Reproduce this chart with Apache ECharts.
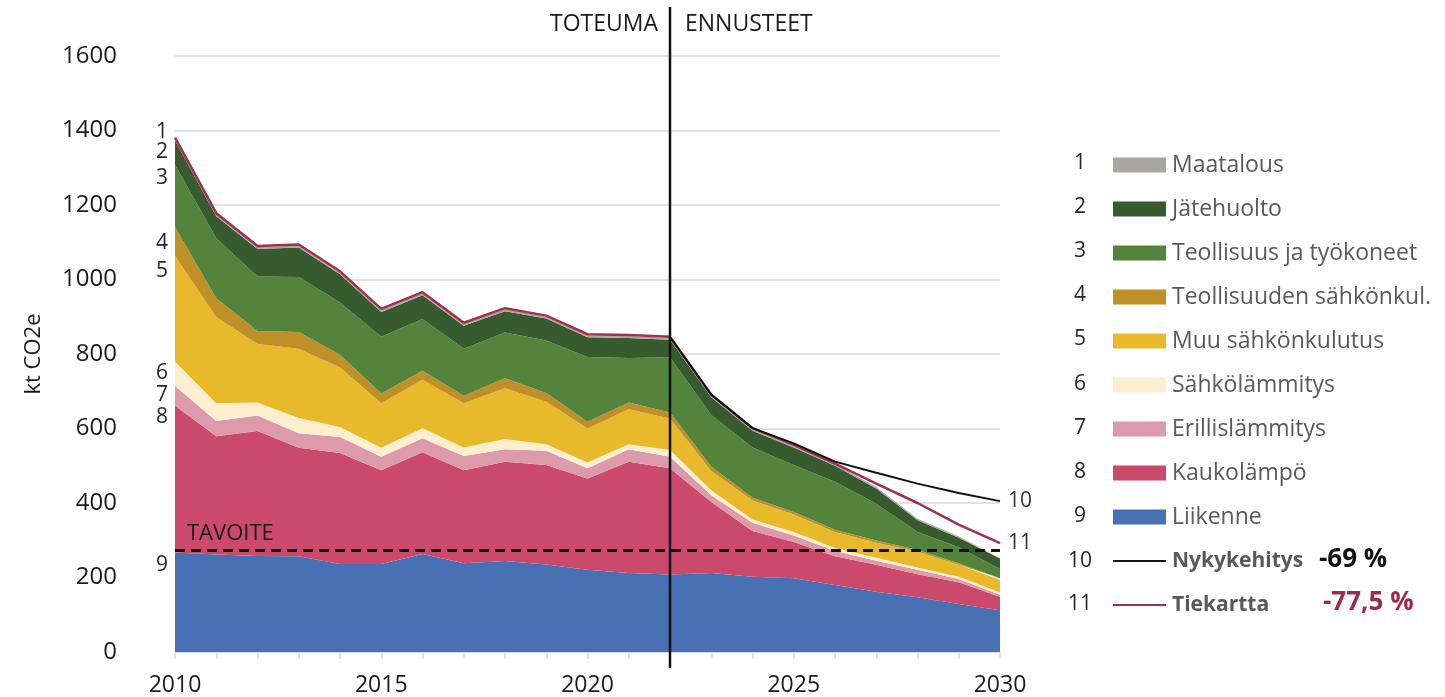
<!DOCTYPE html>
<html lang="fi">
<head>
<meta charset="UTF-8">
<title>Päästöt</title>
<script src="https://cdn.jsdelivr.net/npm/echarts@6.0.0/dist/echarts.min.js"></script>
<style>
    html, body { margin: 0; padding: 0; background: #fff; }
    #container { width: 1445px; height: 697px; }
</style>
</head>
<body>
<div id="container"></div>
<script type="text/javascript">
    // vuodet ja päästöt (kt CO2e)
    var years = ['2010','2011','2012','2013','2014','2015','2016','2017','2018','2019','2020',
                 '2021','2022','2023','2024','2025','2026','2027','2028','2029','2030'];

    var liikenne      = [267,262,258,257,236,236,263,238,244,235,221,212,208,212,202,198,180,162,147,129,112];
    var kaukolampo    = [394,317,335,291,298,252,273,250,267,267,245,299,285,191,123,97,77,72,62,58,36];
    var erillis       = [53,41,42,39,43,36,38,38,33,38,27,33,31,18,22,18,14,11,12,9,6];
    var sahkolammitys = [65,48,35,41,27,24,27,23,28,18,16,14,18,13,9,9,8,8,6,6,6];
    var muuSahko      = [285,231,157,186,160,120,130,119,136,114,91,94,85,52,51,47,43,40,42,32,33];
    var teollSahko    = [77,51,35,45,34,26,24,20,27,23,18,18,16,11,7,7,6,6,5,4,5];
    var teollisuus    = [167,161,146,148,140,152,139,126,123,141,174,119,148,139,135,126,129,99,48,43,25];
    var jatehuolto    = [65,59,74,79,76,67,64,62,57,59,53,54,47,48,45,47,43,41,32,26,28];
    var maatalous     = [5,5,5,5,5,5,5,5,5,5,5,5,5,4,4,4,4,4,4,3,3];

    var nykykehitys = [null,null,null,null,null,null,null,null,null,null,null,null,
                       846,691,601,560,511,481,452,427,405];
    var tiekartta   = [1381,1178,1090,1094,1022,921,966,884,923,903,853,851,846,691,601,556,506,452,400,342,292];

    var tavoite = 274;
    var jakoVuosi = '2022';

    var yTicks = { min: 0, max: 1600, interval: 200 };

    var font = '"Open Sans", "Noto Sans", sans-serif';

    var layers = [
        { name: 'Liikenne', data: liikenne, color: '#4a70b4' },
        { name: 'Kaukolämpö', data: kaukolampo, color: '#cb4a6c' },
        { name: 'Erillislämmitys', data: erillis, color: '#dc9aac' },
        { name: 'Sähkölämmitys', data: sahkolammitys, color: '#fcefcf' },
        { name: 'Muu sähkönkulutus', data: muuSahko, color: '#e8b92b' },
        { name: 'Teollisuuden sähkönkul.', data: teollSahko, color: '#bf9027' },
        { name: 'Teollisuus ja työkoneet', data: teollisuus, color: '#54843c' },
        { name: 'Jätehuolto', data: jatehuolto, color: '#375a2f' },
        { name: 'Maatalous', data: maatalous, color: '#a9a6a4' }
    ];

    var dom = document.getElementById('container');
    var myChart = echarts.init(dom, null, { renderer: 'canvas' });

    var series = layers.map(function (l) {
        return {
            name: l.name,
            type: 'line',
            stack: 'paastot',
            data: l.data,
            symbol: 'none',
            lineStyle: { width: 0 },
            areaStyle: { color: l.color, opacity: 1 },
            itemStyle: { color: l.color },
            z: 2
        };
    });

    // tavoiteviiva
    series[0].markLine = {
        silent: true,
        symbol: 'none',
        lineStyle: { color: '#111', type: [10, 6], width: 3 },
        label: {
            show: true, position: 'insideStartTop', formatter: 'TAVOITE',
            color: '#1a1a1a', fontSize: 22, fontFamily: font, distance: [12, 5]
        },
        data: [{ yAxis: tavoite }]
    };

    var lineIcon = 'path://M0,0 L53,0 L53,2 L0,2 Z';

    series.push({
        name: 'Nykykehitys',
        type: 'line',
        data: nykykehitys,
        symbol: 'none',
        z: 5,
        lineStyle: { color: '#111', width: 2 },
        itemStyle: { color: '#111' },
        endLabel: { show: true, formatter: '10', color: '#333', fontSize: 21, fontFamily: font, distance: 8 }
    });
    series.push({
        name: 'Tiekartta',
        type: 'line',
        data: tiekartta,
        symbol: 'none',
        z: 4,
        lineStyle: { color: '#a0304f', width: 2.5 },
        itemStyle: { color: '#a0304f' },
        endLabel: { show: true, formatter: '11', color: '#333', fontSize: 21, fontFamily: font, distance: 8 }
    });

    var legendData = layers.slice().reverse().map(function (l) { return { name: l.name, icon: 'rect' }; });
    legendData.push({ name: 'Nykykehitys', icon: lineIcon });
    legendData.push({ name: 'Tiekartta', icon: lineIcon });

    var option = {
        animation: false,
        textStyle: { fontFamily: font },
        grid: { left: 175, right: 445, top: 56, bottom: 45 },
        legend: {
            orient: 'vertical',
            left: 1113,
            top: 152,
            padding: 0,
            itemWidth: 53,
            itemHeight: 15,
            itemGap: 18,
            selectedMode: false,
            data: legendData,
            formatter: function (name) {
                if (name === 'Nykykehitys' || name === 'Tiekartta') return '{b|' + name + '}';
                return name;
            },
            textStyle: {
                fontSize: 23, color: '#595959', fontFamily: font, lineHeight: 26, padding: [0, 0, 0, 1],
                rich: { b: { fontSize: 21, fontWeight: 'bold', color: '#595959', fontFamily: font, lineHeight: 26 } }
            }
        },
        xAxis: {
            type: 'category',
            data: years,
            boundaryGap: false,
            axisLine: { lineStyle: { color: '#d9d9d9', width: 1.5 } },
            axisTick: { show: true, interval: 0, length: 7, lineStyle: { color: '#d9d9d9', width: 1.5 } },
            axisLabel: { interval: 4, color: '#1a1a1a', fontSize: 23, margin: 22, fontFamily: font },
            splitLine: { show: false }
        },
        yAxis: {
            type: 'value',
            min: yTicks.min,
            max: yTicks.max,
            interval: yTicks.interval,
            name: 'kt CO2e',
            nameLocation: 'middle',
            nameGap: 130,
            nameRotate: 90,
            nameTextStyle: { fontSize: 22, color: '#1a1a1a', fontFamily: font },
            axisLine: { show: false },
            axisTick: { show: false },
            axisLabel: {
                color: '#1a1a1a', fontSize: 24, margin: 58, fontFamily: font,
                formatter: function (v) { return String(v); }
            },
            splitLine: { lineStyle: { color: '#d9d9d9', width: 1.5 } }
        },
        series: series
    };

    myChart.setOption(option);

    // jakoviiva, otsikot, numerot
    var xJako = myChart.convertToPixel({ xAxisIndex: 0 }, jakoVuosi);
    var graphics = [
        { type: 'line', shape: { x1: xJako, y1: 7, x2: xJako, y2: 668 }, style: { stroke: '#111', lineWidth: 2.5 }, z: 10 },
        { type: 'text', x: xJako - 12, y: 24, style: { text: 'TOTEUMA', fill: '#1a1a1a', font: '23px ' + font, textAlign: 'right', textVerticalAlign: 'middle' }, z: 10 },
        { type: 'text', x: xJako + 15, y: 24, style: { text: 'ENNUSTEET', fill: '#1a1a1a', font: '23px ' + font, textAlign: 'left', textVerticalAlign: 'middle' }, z: 10 }
    ];

    var leftNums = [['1', 132], ['2', 152], ['3', 178], ['4', 243], ['5', 271], ['6', 373], ['7', 395], ['8', 417], ['9', 565]];
    leftNums.forEach(function (n) {
        graphics.push({ type: 'text', x: 162, y: n[1], style: { text: n[0], fill: '#262626', font: '21px ' + font, textAlign: 'center', textVerticalAlign: 'middle' } });
    });

    var legendNums = [163, 207, 251, 295, 339, 384, 428, 472, 516, 561, 604];
    legendNums.forEach(function (y, i) {
        graphics.push({ type: 'text', x: 1080, y: y, style: { text: String(i + 1), fill: '#262626', font: '21px ' + font, textAlign: 'center', textVerticalAlign: 'middle' } });
    });

    graphics.push({ type: 'text', x: 1319, y: 560, style: { text: '-69 %', fill: '#111', font: 'bold 26px ' + font, textAlign: 'left', textVerticalAlign: 'middle' } });
    graphics.push({ type: 'text', x: 1323, y: 603, style: { text: '-77,5 %', fill: '#9e2a4b', font: 'bold 26px ' + font, textAlign: 'left', textVerticalAlign: 'middle' } });

    myChart.setOption({ graphic: graphics });

    window.addEventListener('resize', myChart.resize);
</script>
</body>
</html>
